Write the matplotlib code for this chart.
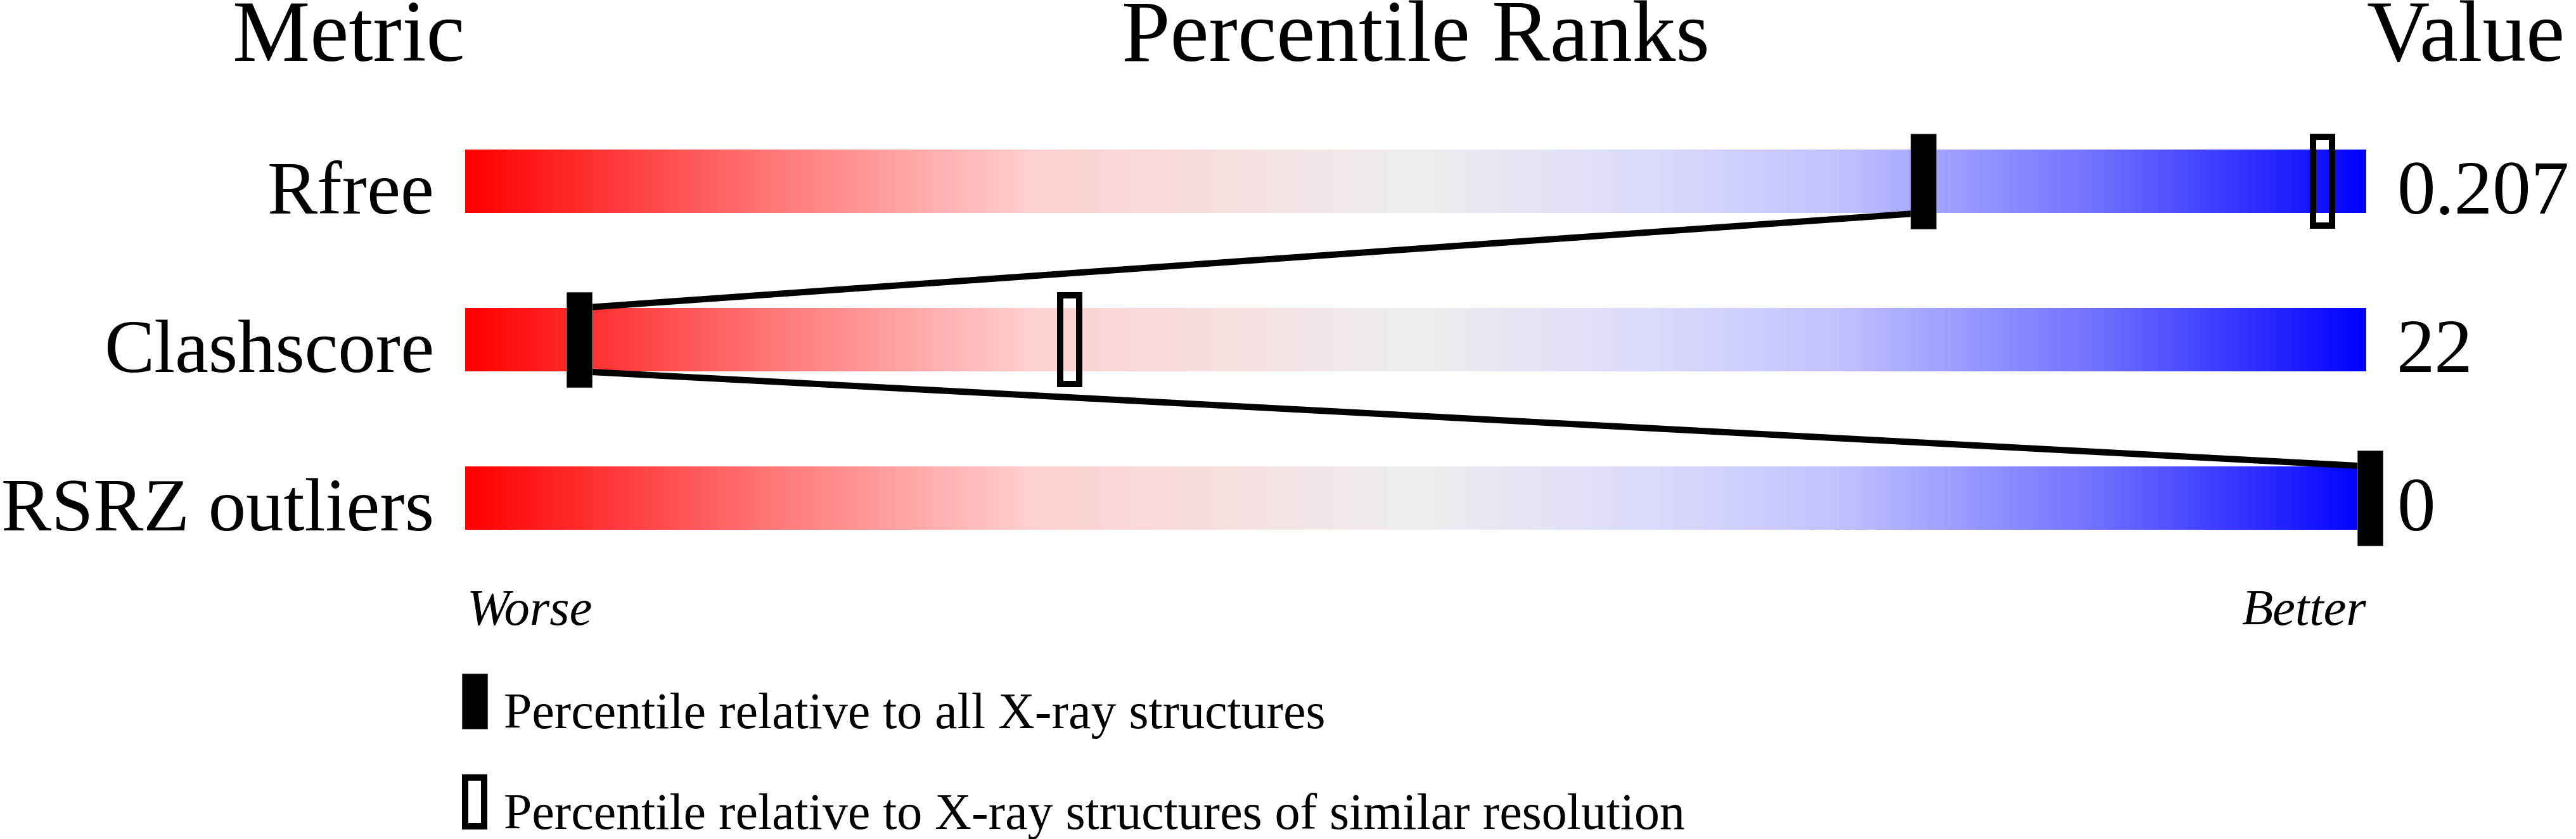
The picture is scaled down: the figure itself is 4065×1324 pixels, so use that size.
import numpy as np
import matplotlib
matplotlib.use("Agg")
import matplotlib.pyplot as plt
from matplotlib.colors import LinearSegmentedColormap
from matplotlib.patches import Rectangle

plt.rcParams['font.family'] = ['Liberation Serif', 'DejaVu Serif']

# data
metrics = ["Rfree", "Clashscore", "RSRZ outliers"]
values = ["0.207", "22", "0"]
pct_all = [76.7, 6.0, 100.2]        # filled markers
pct_similar = [97.7, 31.8, None]    # open markers
legend_labels = ["Percentile relative to all X-ray structures",
                 "Percentile relative to X-ray structures of similar resolution"]

W, H = 4066, 1324
PX = 100.0 / 3000        # percent units per pixel along the bar
ROW = 250.0              # pixels per row

slider = LinearSegmentedColormap.from_list("slider", [
    (0.0, (1.0, 0.0, 0.0)),
    (0.15, (1.0, 112 / 255, 112 / 255)),
    (0.3, (1.0, 210 / 255, 210 / 255)),
    (0.5, (238 / 255, 238 / 255, 238 / 255)),
    (0.62, (220 / 255, 220 / 255, 252 / 255)),
    (0.72, (195 / 255, 195 / 255, 1.0)),
    (0.86, (112 / 255, 112 / 255, 1.0)),
    (1.0, (0.0, 0.0, 1.0)),
])

fig = plt.figure(figsize=(W / 100, H / 100), dpi=100)
ax = fig.add_axes([734 / W, 0, 3000 / W, 1])
ax.set_xlim(0, 100)
ax.set_ylim((H - 286) / ROW, -286 / ROW)
ax.axis('off')

half = 50 / ROW          # half bar height
mh = 75 / ROW            # half marker height
mw = 40 * PX             # marker width
grad = np.linspace(0, 1, 1024).reshape(1, -1)

for i, name in enumerate(metrics):
    ax.imshow(grad, cmap=slider, extent=(0, 100, i + half, i - half),
              aspect='auto', interpolation='bilinear', zorder=1)
    ax.text(-49 * PX, i + half + 0.004, name, ha='right', va='baseline', fontsize=85.5)
    ax.text(101.6, i + half + 0.004, values[i], ha='left', va='baseline', fontsize=87)

# connecting lines between the "all" markers
for i in range(len(metrics) - 1):
    ax.plot([pct_all[i], pct_all[i + 1]], [i + half, i + 1 - half],
            color='black', lw=7.2, solid_capstyle='butt', zorder=2, clip_on=False)

bw = 10  # border of open markers, px
for i in range(len(metrics)):
    if pct_similar[i] is not None:
        ax.add_patch(Rectangle((pct_similar[i] - mw / 2 + bw / 2 * PX, i - mh + bw / 2 / ROW),
                               mw - bw * PX, 2 * mh - bw / ROW, facecolor='none',
                               edgecolor='black', lw=bw * 0.72, zorder=3, clip_on=False))
    ax.add_patch(Rectangle((pct_all[i] - mw / 2, i - mh), mw, 2 * mh,
                           facecolor='black', edgecolor='#555555', lw=0.8,
                           zorder=4, clip_on=False))

# headers
top = (96 - 286) / ROW
ax.text(0, top, "Metric", ha='right', va='baseline', fontsize=99)
ax.text(50, top, "Percentile Ranks", ha='center', va='baseline', fontsize=99)
ax.text(100, top, "Value", ha='left', va='baseline', fontsize=99)

yb = (986 - 286) / ROW
ax.text(0.1, yb, "Worse", ha='left', va='baseline', fontsize=58, style='italic')
ax.text(100, yb, "Better", ha='right', va='baseline', fontsize=58, style='italic')

# legend
leg_base = [1150, 1309]
lh = 87 / ROW
for k, lab in enumerate(legend_labels):
    yl = (leg_base[k] - 286) / ROW
    x0 = -5 * PX
    if k == 0:
        ax.add_patch(Rectangle((x0, yl - lh), mw, lh, facecolor='black',
                               edgecolor='#555555', lw=0.8, clip_on=False))
    else:
        ax.add_patch(Rectangle((x0 + bw / 2 * PX, yl - lh + bw / 2 / ROW),
                               mw - bw * PX, lh - bw / ROW, facecolor='none',
                               edgecolor='black', lw=bw * 0.72, clip_on=False))
    ax.text(61 * PX, yl - 0.004, lab, ha='left', va='baseline', fontsize=57.5)

fig.savefig("out.png", dpi=100)
